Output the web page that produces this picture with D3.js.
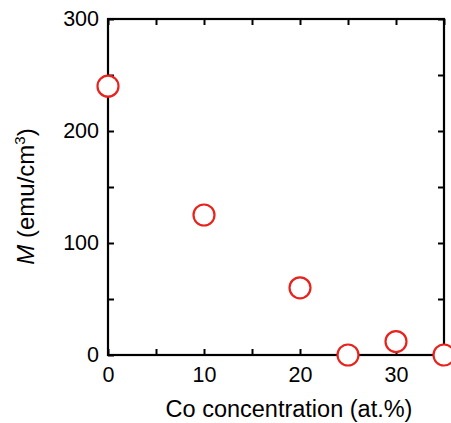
<!DOCTYPE html>
<html><head><meta charset="utf-8">
<script src="https://cdn.jsdelivr.net/npm/d3@7"></script>
<style>body{margin:0;background:#fff}svg{display:block}</style>
</head><body>
<script>
const coConc = [0, 10, 20, 25, 30, 35];
const magnetization = [240, 125, 60, 0, 12, 0];
const xTickLabels = [0, 10, 20, 30];
const yTickLabels = [0, 100, 200, 300];

const W = 451, H = 423;
const m = {left: 108, right: 7, top: 19, bottom: 68};
const svg = d3.select("body").append("svg").attr("width", W).attr("height", H);
const x = d3.scaleLinear().domain([0, 35]).range([m.left, W - m.right]);
const y = d3.scaleLinear().domain([0, 300]).range([H - m.bottom, m.top]);
const font = "Liberation Sans, Arial, sans-serif";

function styleAxis(g) {
  g.select(".domain").remove();
  g.selectAll(".tick line").attr("stroke", "#000").attr("stroke-width", 2);
  g.selectAll(".tick text").attr("font-family", font).attr("font-size", 21.5).attr("fill", "#000");
}
const xt = d3.range(0, 36, 5), yt = d3.range(0, 301, 50);
svg.append("g").attr("transform", `translate(0,${y(0)})`)
  .call(d3.axisTop(x).tickValues(xt).tickSize(6).tickFormat(""))
  .call(styleAxis);
svg.append("g").attr("transform", `translate(0,${y(0)})`)
  .call(d3.axisBottom(x).tickValues(xTickLabels).tickSize(0).tickPadding(12))
  .call(styleAxis);
svg.append("g").attr("transform", `translate(0,${y(300)})`)
  .call(d3.axisBottom(x).tickValues(xt).tickSize(6).tickFormat(""))
  .call(styleAxis);
svg.append("g").attr("transform", `translate(${x(0)},0)`)
  .call(d3.axisRight(y).tickValues(yt).tickSize(6).tickFormat(""))
  .call(styleAxis);
svg.append("g").attr("transform", `translate(${x(0)},0)`)
  .call(d3.axisLeft(y).tickValues(yTickLabels).tickSize(0).tickPadding(9))
  .call(styleAxis);
svg.append("g").attr("transform", `translate(${x(35)},0)`)
  .call(d3.axisLeft(y).tickValues(yt).tickSize(6).tickFormat(""))
  .call(styleAxis);

svg.append("rect").attr("x", x(0)).attr("y", y(300))
  .attr("width", x(35) - x(0)).attr("height", y(0) - y(300))
  .attr("fill", "none").attr("stroke", "#000").attr("stroke-width", 2.2);

svg.append("g").selectAll("circle").data(coConc.map((c, i) => [c, magnetization[i]]))
  .join("circle").attr("cx", d => x(d[0])).attr("cy", d => y(d[1])).attr("r", 10.5)
  .attr("fill", "#fff").attr("stroke", "#e8221c").attr("stroke-width", 2.2);

svg.append("text").attr("x", 289).attr("y", 417).attr("text-anchor", "middle")
  .attr("font-family", font).attr("font-size", 23.5).text("Co concentration (at.%)");

const yl = svg.append("text").attr("transform", "translate(34,196.5) rotate(-90)")
  .attr("text-anchor", "middle").attr("font-family", font).attr("font-size", 24);
yl.append("tspan").attr("font-style", "italic").text("M");
yl.append("tspan").text(" (emu/cm");
yl.append("tspan").attr("font-size", 15).attr("dy", -9).text("3");
yl.append("tspan").attr("dy", 9).text(")");
</script>
</body></html>
